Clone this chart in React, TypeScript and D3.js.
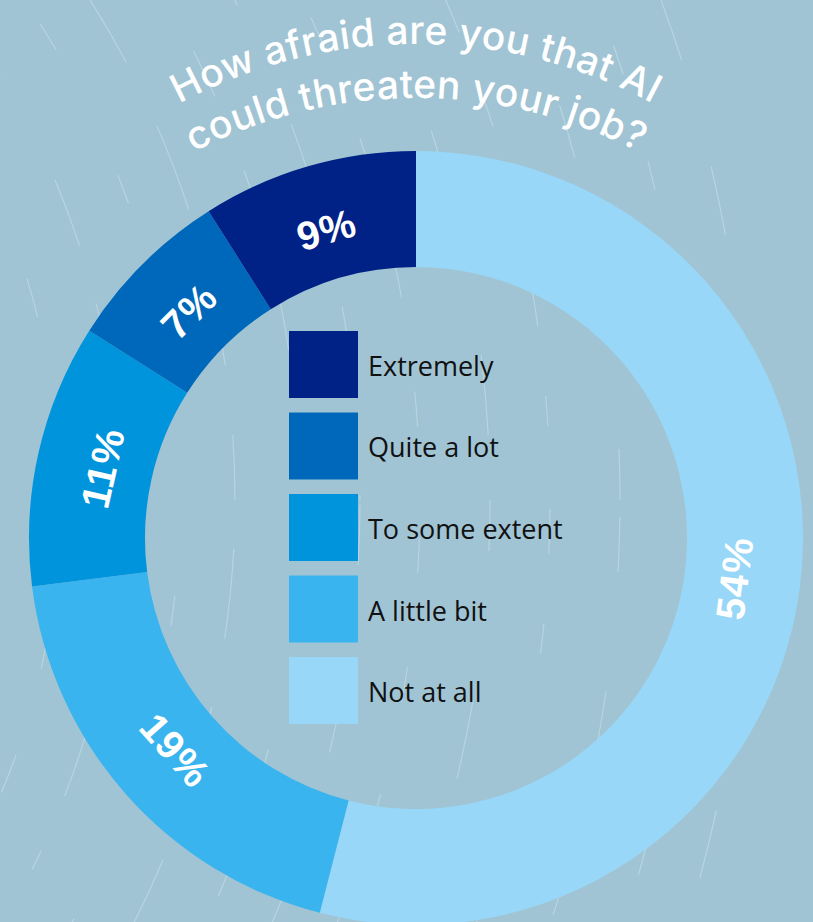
import React from "react";
import * as d3 from "d3";

const categories = ["Not at all", "A little bit", "To some extent", "Quite a lot", "Extremely"];
const values = [54, 19, 11, 7, 9];
const colors = ["#98d7f7", "#3ab4ee", "#0094dc", "#0068ba", "#002185"];
const legendOrder = ["Extremely", "Quite a lot", "To some extent", "A little bit", "Not at all"];
const titleLines = ["How afraid are you that AI", "could threaten your job?"];

const W = 813;
const H = 922;
const cx = 416;
const cy = 538;
const R = 387;
const r = 271;
const labelR = 321;

// decorative background streaks: radius, dash pattern, offset
const decoRadii = [760, 820, 880, 935, 1000, 1060, 1120, 1190, 1250, 1320, 1390, 1450];
const decoDash = ["40 90", "70 60 20 120", "30 140", "90 70", "25 110 50 80", "60 130", "35 95", "80 150", "45 70 30 160", "55 120", "30 90", "70 110"];

export default function App() {
  const pie = d3
    .pie<number>()
    .sort(null)
    .value((d) => d)
    .startAngle(0)
    .endAngle(2 * Math.PI);
  const arcs = pie(values);
  const arcGen = d3.arc<d3.PieArcDatum<number>>().innerRadius(r).outerRadius(R);
  const labelArc = d3.arc<d3.PieArcDatum<number>>().innerRadius(labelR).outerRadius(labelR);
  const color = d3.scaleOrdinal<string, string>().domain(categories).range(colors);

  const titleArcs = [
    { rad: 500, y: 544 },
    { rad: 485, y: 583 },
  ];
  const arcPath = (rad: number, y: number) =>
    `M ${cx - rad} ${y} A ${rad} ${rad} 0 0 1 ${cx + rad} ${y}`;

  const legendY = d3
    .scaleBand<string>()
    .domain(legendOrder)
    .range([331, 724])
    .paddingInner(0.178)
    .paddingOuter(0);

  const decoC = [-700, 500];

  return (
    <svg width={W} height={H} style={{ position: "absolute", left: 0, top: 0 }}>
      <rect x={0} y={0} width={W} height={H} fill="#a0c4d4" />
      <g fill="none" stroke="#e6f4f4" strokeOpacity={0.35} strokeWidth={1.2}>
        {decoRadii.map((rad, i) => (
          <circle key={i} cx={decoC[0]} cy={decoC[1]} r={rad} strokeDasharray={decoDash[i]} strokeDashoffset={i * 37} />
        ))}
      </g>
      <defs>
        {titleArcs.map((a, i) => (
          <path key={i} id={`tp${i}`} d={arcPath(a.rad, a.y)} fill="none" />
        ))}
      </defs>
      {titleLines.map((t, i) => (
        <text
          key={i}
          fill="#ffffff"
          fontFamily="Inter, 'Liberation Sans', Arial, sans-serif"
          fontSize={39}
          fontWeight={500}
          letterSpacing={0.4}
        >
          <textPath href={`#tp${i}`} startOffset="50%" textAnchor="middle">
            {t}
          </textPath>
        </text>
      ))}
      <g transform={`translate(${cx},${cy})`}>
        {arcs.map((a, i) => (
          <path key={i} d={arcGen(a) || ""} fill={color(categories[i])} />
        ))}
        {arcs.map((a, i) => {
          const [x, y] = labelArc.centroid(a);
          const mid = (((a.startAngle + a.endAngle) / 2) * 180) / Math.PI;
          const rot = mid > 90 && mid < 270 ? mid - 180 : mid > 270 ? mid - 360 : mid;
          return (
            <text
              key={i}
              transform={`translate(${x},${y}) rotate(${rot})`}
              textAnchor="middle"
              dominantBaseline="central"
              fill="#ffffff"
              fontFamily="'Liberation Sans', Arial, sans-serif"
              fontWeight={700}
              fontSize={40}
              letterSpacing={1}
            >
              {`${values[i]}%`}
            </text>
          );
        })}
      </g>
      {legendOrder.map((c) => {
        const y0 = legendY(c) as number;
        const h = legendY.bandwidth();
        return (
          <g key={c}>
            <rect x={289} y={y0} width={69} height={h} fill={color(c)} />
            <text
              x={368}
              y={y0 + h / 2 + 1}
              dominantBaseline="central"
              fill="#111111"
              fontFamily="'Open Sans', sans-serif"
              fontSize={27}
            >
              {c}
            </text>
          </g>
        );
      })}
    </svg>
  );
}
